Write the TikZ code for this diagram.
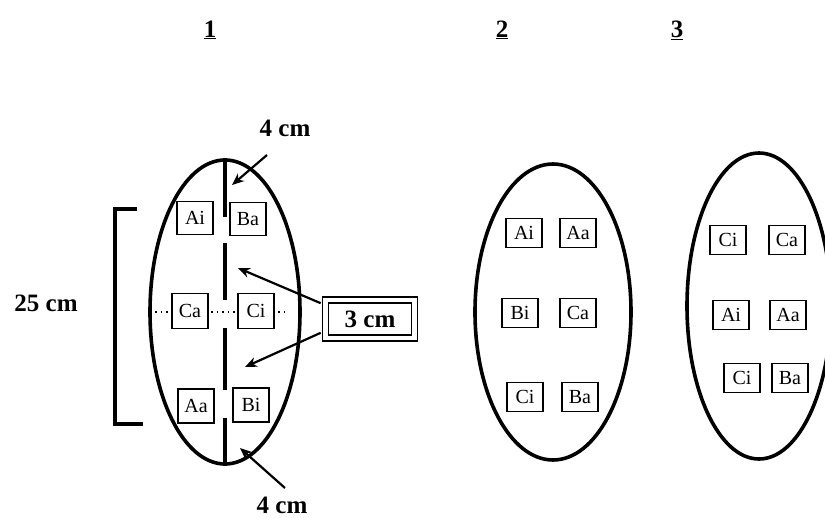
\documentclass[tikz,border=0pt]{standalone}
\usepackage{fontspec}
\setmainfont{Liberation Serif}
\usetikzlibrary{shapes.geometric,arrows.meta}

\begin{document}
\begin{tikzpicture}[
  x=1pt, y=-1pt,
  field_ellipse/.style={ellipse, draw, line width=3.6pt, inner sep=0pt},
  plot_box/.style={rectangle, draw, line width=1.6pt, fill=white, inner sep=0pt, minimum width=36pt, minimum height=29pt, font=\fontsize{20}{22}\selectfont},
  big_label/.style={inner sep=0pt, font=\fontsize{25}{28}\selectfont\bfseries},
  gap_line/.style={line width=3.6pt},
  thin_arrow/.style={line width=2.2pt, -{Stealth[length=12pt, width=10pt]}},
]
\useasboundingbox (0,0) rectangle (825,517);
% titles
\draw (210,30) node (t1) [big_label] {\underline{1}};
\draw (502,30) node (t2) [big_label] {\underline{2}};
\draw (677,30) node (t3) [big_label] {\underline{3}};
% field 1
\draw (225,312) node (e1) [field_ellipse, minimum width=150pt, minimum height=304pt] {};
\coordinate (dl) at (155,312);
\coordinate (dr) at (288,312);
\draw[line width=1.3pt, dash pattern=on 1.6pt off 4pt] (dl) -- (dr);
\coordinate (g1) at (225,217);
\coordinate (g2a) at (225,243);
\coordinate (g2b) at (225,300);
\coordinate (g3a) at (225,328);
\coordinate (g3b) at (225,390);
\coordinate (g4) at (225,418);
\draw[gap_line] (e1.north) -- (g1);
\draw[gap_line] (g2a) -- (g2b);
\draw[gap_line] (g3a) -- (g3b);
\draw[gap_line] (g4) -- (e1.south);
\draw (195,218) node (ai1) [plot_box, minimum height=33pt] {Ai};
\draw (248,219) node (ba1) [plot_box, minimum height=33pt] {Ba};
\draw (190,311) node (ca1) [plot_box, minimum height=35pt] {Ca};
\draw (256,311) node (ci1) [plot_box, minimum height=35pt] {Ci};
\draw (196,406) node (aa1) [plot_box, minimum height=34pt] {Aa};
\draw (251,405) node (bi1) [plot_box, minimum height=34pt] {Bi};
% measures
\coordinate (bt) at (137,209);
\coordinate (bb) at (143,424);
\draw[line width=3.2pt] (bt) -- (115,209) -- (115,424) -- (bb);
\draw (46,303) node (len) [big_label] {25 cm};
\draw (285,128) node (top4) [big_label] {4 cm};
\draw (282,505) node (bot4) [big_label] {4 cm};
\draw (370,319) node (cm3) [big_label, draw, line width=1.6pt, double, double distance=4.5pt, minimum width=89pt, minimum height=38pt] {3 cm};
\coordinate (ta) at (267,155);
\coordinate (te) at (232,185);
\coordinate (ba) at (285,488);
\coordinate (be) at (240,448);
\coordinate (m1) at (238,268);
\coordinate (m2) at (245,367);
\draw[thin_arrow] (ta) -- (te);
\draw[thin_arrow] (ba) -- (be);
\draw[thin_arrow] ([xshift=-4pt, yshift=-4pt]cm3.north west) -- (m1);
\draw[thin_arrow] ([xshift=-4pt, yshift=6pt]cm3.south west) -- (m2);
% field 2
\draw (553,312) node (e2) [field_ellipse, minimum width=156pt, minimum height=296pt] {};
\draw (524,233) node (ai2) [plot_box] {Ai};
\draw (578,233) node (aa2) [plot_box] {Aa};
\draw (520,313) node (bi2) [plot_box] {Bi};
\draw (578,313) node (ca2) [plot_box] {Ca};
\draw (525,397) node (ci2) [plot_box] {Ci};
\draw (580,397) node (ba2) [plot_box] {Ba};
% field 3
\draw (759,306) node (e3) [field_ellipse, minimum width=144pt, minimum height=306pt] {};
\draw (728,240) node (ci3) [plot_box] {Ci};
\draw (787,240) node (ca3) [plot_box] {Ca};
\draw (731,315) node (ai3) [plot_box] {Ai};
\draw (788,315) node (aa3) [plot_box] {Aa};
\draw (742,378) node (cj3) [plot_box] {Ci};
\draw (790,378) node (ba3) [plot_box] {Ba};
\end{tikzpicture}
\end{document}
